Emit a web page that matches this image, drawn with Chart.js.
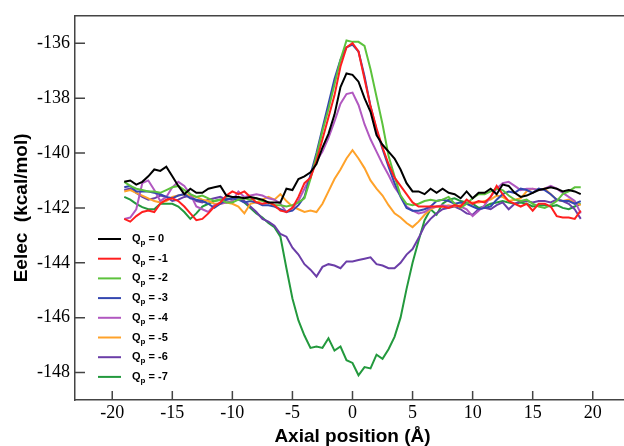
<!DOCTYPE html>
<html>
<head>
<meta charset="utf-8">
<script src="https://cdn.jsdelivr.net/npm/chart.js@4/dist/chart.umd.min.js"></script>
<style>
  html, body { margin: 0; padding: 0; background: #fff; overflow: hidden; }
  #wrap { position: relative; width: 634px; height: 446px; }
</style>
</head>
<body>
<div id="wrap"><canvas id="grafico"></canvas></div>
<script>
// Posiciones axiales (Å)
const posiciones = [
  -19, -18.5, -18, -17.5, -17, -16.5, -16, -15.5, -15,
  -14.5, -14, -13.5, -13, -12.5, -12, -11.5, -11, -10.5,
  -10, -9.5, -9, -8.5, -8, -7.5, -7, -6.5, -6,
  -5.5, -5, -4.5, -4, -3.5, -3, -2.5, -2, -1.5,
  -1, -0.5, 0, 0.5, 1, 1.5, 2, 2.5, 3,
  3.5, 4, 4.5, 5, 5.5, 6, 6.5, 7, 7.5,
  8, 8.5, 9, 9.5, 10, 10.5, 11, 11.5, 12,
  12.5, 13, 13.5, 14, 14.5, 15, 15.5, 16, 16.5,
  17, 17.5, 18, 18.5, 19
];

// Eelec (kcal/mol) por carga Qp
const qp0 = [
  -141.05, -141.0, -141.15, -141.05, -140.85, -140.6, -140.65, -140.5, -140.85,
  -141.2, -141.5, -141.3, -141.45, -141.45, -141.3, -141.25, -141.2, -141.55,
  -141.6, -141.6, -141.65, -141.6, -141.65, -141.7, -141.8, -141.8, -141.8,
  -141.3, -141.35, -140.95, -140.85, -140.7, -140.4, -139.8, -139.3, -138.6,
  -137.6, -137.1, -137.15, -137.4, -138.0, -138.5, -139.35, -139.7, -139.95,
  -140.2, -140.6, -141.1, -141.4, -141.4, -141.5, -141.3, -141.45, -141.3,
  -141.45, -141.5, -141.65, -141.4, -141.65, -141.45, -141.45, -141.3, -141.5,
  -141.15, -141.2, -141.45, -141.6, -141.55, -141.45, -141.35, -141.3, -141.25,
  -141.3, -141.4, -141.35, -141.4, -141.5
];
const qp1 = [
  -142.4, -142.5, -142.3, -142.15, -142.1, -142.15, -141.85, -141.7, -141.65,
  -141.75, -141.95, -142.2, -142.45, -142.4, -142.2, -141.95, -141.8, -141.55,
  -141.4, -141.5, -141.4, -141.6, -141.8, -141.85, -141.8, -141.9, -142.1,
  -142.15, -142.0, -141.6, -141.1, -140.9, -140.3, -139.5, -138.7, -137.9,
  -136.85, -136.15, -136.0, -136.3, -137.3, -138.3, -139.1, -139.8, -140.4,
  -140.9, -141.2, -141.5, -141.8, -141.95, -141.95, -141.95, -141.95, -141.95,
  -142.0, -141.9, -141.95, -141.7, -141.85, -141.75, -141.8, -141.6, -141.2,
  -141.5, -141.75, -141.85, -141.95, -141.85, -142.1, -141.85, -141.85, -141.95,
  -142.3, -142.35, -142.35, -142.4, -142.1
];
const qp2 = [
  -141.05, -141.2, -141.3, -141.35, -141.4, -141.4, -141.45, -141.35, -141.25,
  -141.2, -141.35, -141.5, -141.6, -141.55, -141.65, -141.75, -141.7, -141.8,
  -141.8, -141.7, -141.65, -141.7, -141.65, -141.75, -141.8, -141.9, -141.9,
  -141.95, -141.9, -141.8, -141.65, -140.95, -140.1, -139.2, -138.4, -137.5,
  -136.6, -135.9, -135.95, -135.95, -136.1, -136.95, -137.95, -138.95, -140.1,
  -140.85, -141.55, -141.85, -141.9, -141.85, -141.75, -141.7, -141.75, -141.7,
  -141.6, -141.85, -142.0, -141.85, -141.65, -141.5, -141.5, -141.4, -141.3,
  -141.35, -141.55, -141.7, -141.75, -141.7, -141.85, -141.95, -142.0, -141.9,
  -141.75, -141.5, -141.4, -141.25, -141.25
];
const qp3 = [
  -141.25, -141.2, -141.4, -141.4, -141.4, -141.45, -141.5, -141.6, -141.65,
  -141.55, -141.5, -141.65, -141.7, -141.75, -141.85, -142.0, -141.85, -141.7,
  -141.65, -141.7, -141.8, -141.75, -141.8, -141.9, -141.9, -141.95, -142.05,
  -142.15, -142.1, -141.9, -141.6, -140.8, -140.0, -139.1, -138.2, -137.3,
  -136.6, -136.15, -136.05, -136.3, -137.2, -138.3, -139.15, -139.85, -140.5,
  -141.1, -141.6, -142.0, -142.1, -142.1, -142.05, -141.95, -141.75, -141.7,
  -141.75, -141.85, -141.8, -141.85, -141.95, -142.05, -142.0, -141.95, -141.7,
  -141.5, -141.4, -141.45, -141.3, -141.35, -141.45, -141.3, -141.35, -141.5,
  -141.7, -141.75, -141.75, -141.85, -141.75
];
const qp4 = [
  -142.4, -142.35, -142.05, -141.1, -141.0, -141.35, -141.75, -141.6, -141.25,
  -141.05, -141.2, -141.5, -141.95, -142.05, -142.15, -141.9, -141.85, -141.8,
  -141.75, -141.4, -141.6, -141.55, -141.5, -141.55, -141.65, -141.7, -141.85,
  -142.15, -142.0, -141.75, -141.3, -140.85, -140.3, -139.95, -139.45, -138.85,
  -138.2, -137.85, -137.8, -138.25, -138.95, -139.5, -139.95, -140.4, -140.8,
  -141.25, -141.55, -141.95, -142.1, -142.2, -142.15, -142.0, -141.95, -141.9,
  -141.95, -141.9, -141.95, -142.05, -142.3, -142.1, -141.9, -141.6, -141.3,
  -141.1, -141.05, -141.2, -141.35, -141.3, -141.3, -141.35, -141.3, -141.2,
  -141.3, -141.45, -141.6, -141.75, -142.2
];
const qp5 = [
  -141.4, -141.35, -141.45, -141.55, -141.65, -141.75, -141.8, -141.75, -141.6,
  -141.55, -141.5, -141.55, -141.6, -141.7, -141.75, -141.85, -141.85, -141.8,
  -141.85, -141.95, -142.2, -141.85, -141.8, -141.7, -141.6, -141.7, -141.5,
  -141.75, -141.95, -142.05, -142.15, -142.1, -142.15, -141.85, -141.4, -140.95,
  -140.6, -140.2, -139.9, -140.2, -140.55, -141.0, -141.3, -141.55, -141.9,
  -142.2, -142.35, -142.55, -142.7, -142.5, -142.25, -142.05, -141.95, -141.95,
  -141.9, -141.95, -141.9, -141.85, -141.8, -141.8, -141.75, -141.7, -141.55,
  -141.6, -141.75, -141.7, -141.65, -141.4, -141.3, -141.35, -141.3, -141.5,
  -141.7, -141.75, -141.7, -141.8, -141.9
];
const qp6 = [
  -141.35, -141.3, -141.45, -141.6, -141.7, -141.65, -141.55, -141.6, -141.75,
  -141.7, -141.6, -141.55, -141.75, -141.8, -141.7, -141.65, -141.6, -141.7,
  -141.65, -141.6, -141.75, -141.95, -142.15, -142.4, -142.5, -142.65, -142.95,
  -143.05, -143.45, -143.7, -144.05, -144.25, -144.5, -144.15, -144.05, -144.1,
  -144.2, -143.95, -143.95, -143.9, -143.85, -143.8, -144.05, -144.1, -144.2,
  -144.2, -144.0, -143.7, -143.5, -143.1, -142.65, -142.4, -142.2, -142.05,
  -142.0, -141.95, -142.05, -142.2, -142.25, -142.05, -142.0, -142.05, -141.9,
  -141.8, -142.05, -141.85, -141.75, -141.75, -141.8, -141.75, -141.75, -141.8,
  -141.7, -141.75, -141.85, -142.05, -142.4
];
const qp7 = [
  -141.6, -141.7, -141.85, -141.97, -142.05, -142.05, -141.85, -141.85, -141.85,
  -141.95, -142.15, -142.4, -142.2, -141.95, -141.85, -141.75, -141.7, -141.65,
  -141.7, -141.65, -141.8, -142.0, -142.2, -142.35, -142.55, -142.7, -143.05,
  -144.2, -145.3, -146.1, -146.65, -147.1, -147.05, -147.1, -146.75, -147.2,
  -147.05, -147.55, -147.65, -148.1, -147.8, -147.85, -147.35, -147.5, -147.15,
  -146.7, -146.0, -144.95, -144.0, -143.2, -142.45, -142.05, -142.25, -141.85,
  -141.7, -141.65, -141.75, -141.8, -141.85, -142.0, -141.95, -141.85, -141.8,
  -141.75, -141.8, -141.85, -141.8, -141.85, -141.95, -141.9, -141.9, -141.95,
  -141.9, -142.0, -142.05, -141.95, -141.85
];

const cargas = ['0', '-1', '-2', '-3', '-4', '-5', '-6', '-7'];
const series = [qp0, qp1, qp2, qp3, qp4, qp5, qp6, qp7];
const colores = ['#000000', '#ff1f1f', '#5cc23c', '#3447b0', '#b158c0', '#ffa22a', '#6b3ea8', '#23993d'];

const ticksX = [-20, -15, -10, -5, 0, 5, 10, 15, 20];
const ticksY = [-148, -146, -144, -142, -140, -138, -136];

const COLOR_EJE = '#444';

// Ticks hacia adentro y borde superior
const marcoPlugin = {
    id: 'marco',
    afterDraw(chart) {
        const ctx = chart.ctx;
        const area = chart.chartArea;
        const sx = chart.scales.x;
        const sy = chart.scales.y;
        ctx.save();
        ctx.strokeStyle = COLOR_EJE;
        ctx.lineWidth = 1.5;
        ctx.beginPath();
        ctx.moveTo(area.left, area.top);
        ctx.lineTo(area.right + 10, area.top);
        ticksX.forEach(v => {
            const px = sx.getPixelForValue(v);
            ctx.moveTo(px, area.bottom);
            ctx.lineTo(px, area.bottom - 9);
        });
        ticksY.forEach(v => {
            const py = sy.getPixelForValue(v);
            ctx.moveTo(area.left, py);
            ctx.lineTo(area.left + 10, py);
        });
        ctx.stroke();
        ctx.restore();
    }
};

// Leyenda con subíndice (Q_p)
const leyendaPlugin = {
    id: 'leyendaQp',
    afterDraw(chart) {
        const ctx = chart.ctx;
        ctx.save();
        ctx.textBaseline = 'middle';
        chart.data.datasets.forEach((ds, i) => {
            const y = 239 + i * 19.7;
            ctx.strokeStyle = ds.borderColor;
            ctx.lineWidth = 2;
            ctx.beginPath();
            ctx.moveTo(98, y);
            ctx.lineTo(121, y);
            ctx.stroke();
            ctx.fillStyle = '#000';
            let x = 132;
            ctx.font = 'bold 11px "Liberation Sans", Arial, sans-serif';
            ctx.fillText('Q', x, y);
            x += ctx.measureText('Q').width;
            ctx.font = 'bold 8px "Liberation Sans", Arial, sans-serif';
            ctx.fillText('p', x, y + 4);
            x += ctx.measureText('p').width;
            ctx.font = 'bold 11px "Liberation Sans", Arial, sans-serif';
            ctx.fillText(' = ' + cargas[i], x, y);
        });
        ctx.restore();
    }
};

const datasets = series.map((s, i) => ({
    label: 'Qp = ' + cargas[i],
    data: posiciones.map((x, j) => ({ x: x, y: s[j] })),
    borderColor: colores[i],
    backgroundColor: colores[i],
    borderWidth: 2,
    pointRadius: 0,
    tension: 0,
    fill: false
}));

new Chart(document.getElementById('grafico'), {
    type: 'line',
    data: { datasets: datasets },
    options: {
        responsive: true,
        maintainAspectRatio: false,
        animation: false,
        layout: { padding: { top: 12, right: 4, left: 0, bottom: 0 } },
        plugins: {
            legend: { display: false },
            tooltip: { enabled: false }
        },
        scales: {
            x: {
                type: 'linear',
                min: -23.1,
                max: 23.1,
                afterBuildTicks: s => { s.ticks = ticksX.map(v => ({ value: v })); },
                afterFit: s => { s.height = 46; },
                grid: { display: false, drawTicks: false },
                border: { display: true, color: COLOR_EJE, width: 1.5 },
                ticks: {
                    padding: 2,
                    color: '#000',
                    font: { family: '"Liberation Serif", "Times New Roman", serif', size: 18 }
                },
                title: {
                    display: true,
                    text: 'Axial position (Å)',
                    color: '#000',
                    padding: { top: 0, bottom: 0 },
                    font: { family: '"Liberation Sans", Arial, sans-serif', size: 19, weight: 'bold', lineHeight: 1 }
                }
            },
            y: {
                min: -149,
                max: -135,
                afterBuildTicks: s => { s.ticks = ticksY.map(v => ({ value: v })); },
                afterFit: s => { s.width = 75; },
                grid: { display: false, drawTicks: false },
                border: { display: true, color: COLOR_EJE, width: 1.5 },
                ticks: {
                    padding: 5,
                    color: '#000',
                    font: { family: '"Liberation Serif", "Times New Roman", serif', size: 18 }
                },
                title: {
                    display: true,
                    text: 'Eelec  (kcal/mol)',
                    color: '#000',
                    padding: { top: 12, bottom: 0 },
                    font: { family: '"Liberation Sans", Arial, sans-serif', size: 19, weight: 'bold', lineHeight: 1 }
                }
            }
        }
    },
    plugins: [marcoPlugin, leyendaPlugin]
});
</script>
</body>
</html>
